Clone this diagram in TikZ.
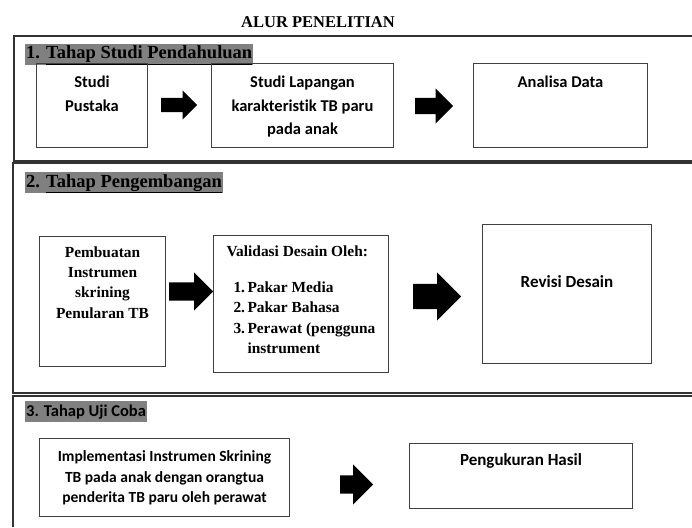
\documentclass[tikz,border=0pt]{standalone}
\usepackage{fontspec}
\setmainfont{Liberation Serif}
\newfontfamily\calibri[Ligatures=NoCommon]{Carlito}
\usetikzlibrary{calc,shapes.arrows}
\tikzstyle{frame}=[draw=black!80,line width=1.2pt]
\tikzstyle{box}=[draw=black!75,line width=1pt,inner sep=0pt,
                 font=\calibri\bfseries\fontsize{16.5}{23.5}\selectfont]
\tikzstyle{tbox}=[box,font=\bfseries\fontsize{15.4}{20.2}\selectfont]
\tikzstyle{hl}=[fill=gray,inner xsep=1pt,inner ysep=1pt,text height=14pt,
                text depth=5pt,anchor=base west]
\tikzstyle{blk}=[single arrow,fill=black,draw=none,inner xsep=0pt,anchor=tail,
                 single arrow head indent=0pt]
\newcommand{\boxtxt}[5][\centering]{\parbox[c][#3][t]{#2}{#1\rule{0pt}{#4}#5}}

\begin{document}
\begin{tikzpicture}[x=1pt,y=-1pt]
\useasboundingbox[fill=white] (0,0) rectangle (692,527);
\node (judul) at (318,28)[anchor=base,font=\bfseries\fontsize{16.5}{20}\selectfont]{ALUR PENELITIAN};
\draw[frame] (692,36) -- (14,36) -- (14,161) -- (692,161);
\draw[frame] (692,163) -- (13,163) -- (13,393) -- (692,393);
\draw[frame] (692,396) -- (13,396) -- (13,527);
\node (tahap1) at (25,59)[hl,font=\bfseries\fontsize{18.5}{20}\selectfont]{1. \underline{Tahap Studi Pendahuluan}};
\node (tahap2) at (25,187)[hl,font=\bfseries\fontsize{18.5}{20}\selectfont]{2. \underline{Tahap Pengembangan}};
\node (tahap3) at (25,416)[hl,font=\calibri\bfseries\fontsize{16.5}{20}\selectfont]{3. Tahap Uji Coba};
\node (pustaka) at (36,63)[box,anchor=north west]{\boxtxt{111pt}{84pt}{24pt}{Studi\\Pustaka}};
\node (lapangan) at (211,63)[box,anchor=north west]{\boxtxt{182pt}{84pt}{24pt}{Studi Lapangan\\karakteristik TB paru\\pada anak}};
\node (analisa) at (473,63)[box,anchor=north west]{\boxtxt{174pt}{84pt}{24pt}{Analisa Data}};
\node (pembuatan) at (39,236)[tbox,anchor=north west]{\boxtxt{126pt}{130pt}{21pt}{Pembuatan\\Instrumen\\skrining\\Penularan TB}};
\node (validasi) at (213,235)[tbox,anchor=north west]{\boxtxt[\raggedright]{175pt}{137pt}{21pt}{\hspace*{13pt}Validasi Desain Oleh:\\[16pt]
  \hspace*{20pt}\makebox[14pt][l]{1.}Pakar Media\\
  \hspace*{20pt}\makebox[14pt][l]{2.}Pakar Bahasa\\
  \hspace*{20pt}\makebox[14pt][l]{3.}Perawat (pengguna\\
  \hspace*{34pt}instrument}};
\node (revisi) at (482,224)[box,anchor=north west,font=\calibri\bfseries\fontsize{17}{20}\selectfont]{\boxtxt{169pt}{139pt}{63pt}{Revisi Desain}};
\node (implementasi) at (39,438)[box,anchor=north west,font=\calibri\bfseries\fontsize{15.5}{20.5}\selectfont]{\boxtxt{250pt}{78pt}{23pt}{Implementasi Instrumen Skrining\\TB pada anak dengan orangtua\\penderita TB paru oleh perawat}};
\node (pengukuran) at (409,443)[box,anchor=north west,font=\calibri\bfseries\fontsize{17}{20}\selectfont]{\boxtxt{223pt}{65pt}{22pt}{Pengukuran Hasil}};
\node (p1) at ($(pustaka.east)+(13,-0.5)$)[blk,minimum height=36pt,inner ysep=7pt,single arrow head extend=7.5pt]{};
\node (p2) at ($(lapangan.east)+(21,0.5)$)[blk,minimum height=38pt,inner ysep=8pt,single arrow head extend=9.5pt]{};
\node (p3) at ($(pembuatan.east)+(3,-10)$)[blk,minimum height=44pt,inner ysep=9pt,single arrow head extend=10pt]{};
\node (p4) at ($(validasi.east)+(24,-7.5)$)[blk,minimum height=48pt,inner ysep=12.5pt,single arrow head extend=11.5pt]{};
\node (p5) at ($(implementasi.east)+(50,7)$)[blk,minimum height=33pt,inner ysep=9pt,single arrow head extend=11pt]{};
\end{tikzpicture}
\end{document}
